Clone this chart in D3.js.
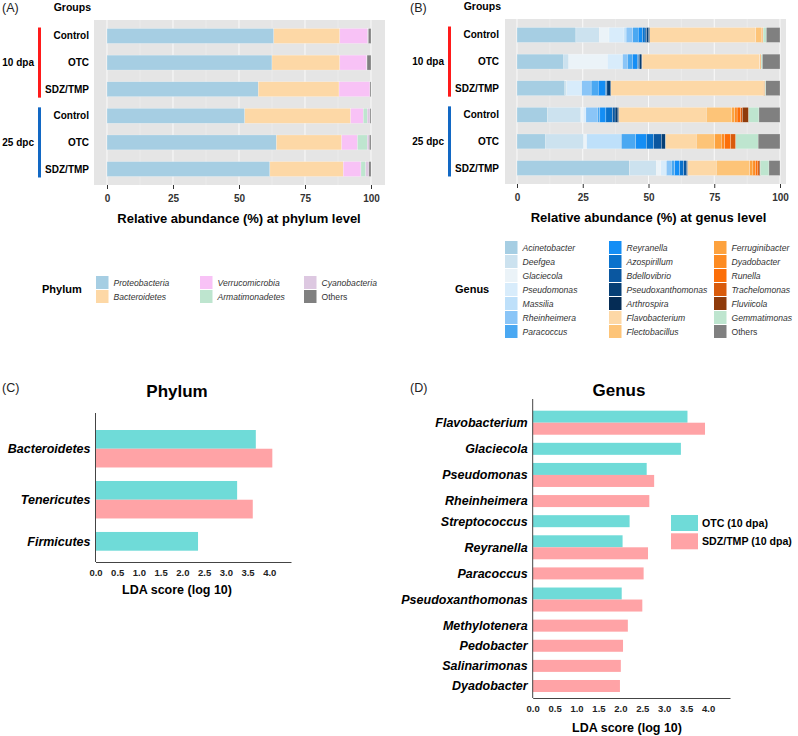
<!DOCTYPE html>
<html>
<head>
<meta charset="utf-8">
<script src="https://cdn.jsdelivr.net/npm/d3@7"></script>
<style>
  body { margin: 0; background: #fff; }
  svg { font-family: "Liberation Sans", Arial, sans-serif; }
</style>
</head>
<body>
<svg id="chart" width="798" height="736"></svg>
<script>
// --- data -----------------------------------------------------------------
const timepoints = ["10 dpa", "25 dpc"];
const treatments = ["Control", "OTC", "SDZ/TMP"];
const timeColors = ["#ff1a1a", "#1268c4"];
const abundanceTicks = [0, 25, 50, 75, 100];

const phylumNames = ["Proteobacteria", "Bacteroidetes", "Verrucomicrobia", "Armatimonadetes", "Cyanobacteria", "Others"];
const phylumColors = ["#a6cee3", "#fdd8a6", "#f8c2f6", "#bee5cf", "#ddc8e1", "#808080"];
// one row per group, top to bottom (10 dpa Control, OTC, SDZ/TMP, 25 dpc Control, OTC, SDZ/TMP)
const phylumValues = [
  [63.2, 25.0, 10.5, 0.0, 0.3, 1.0],
  [62.5, 25.7, 10.2, 0.0, 0.1, 1.5],
  [57.3, 30.6, 11.7, 0.0, 0.0, 0.4],
  [52.2, 40.1, 4.8, 1.5, 1.0, 0.4],
  [64.2, 24.7, 6.0, 3.7, 0.8, 0.6],
  [61.7, 27.8, 6.7, 1.8, 1.2, 0.8]
];

const genusNames = ["Acinetobacter", "Deefgea", "Glaciecola", "Pseudomonas", "Massilia", "Rheinheimera", "Paracoccus",
  "Reyranella", "Azospirillum", "Bdellovibrio", "Pseudoxanthomonas", "Arthrospira", "Flavobacterium", "Flectobacillus",
  "Ferruginibacter", "Dyadobacter", "Runella", "Trachelomonas", "Fluviicola", "Gemmatimonas", "Others"];
const genusColors = ["#a6cee3", "#cce2ef", "#ebf3f8", "#d8ecfb", "#bee0fa", "#8ac5f7", "#4aa8f2",
  "#148ef5", "#0a72cc", "#0a57a0", "#063f75", "#052c55", "#fdd8a6", "#fdc478",
  "#fda23e", "#fd8b22", "#fc6e08", "#d95b0c", "#8f3b0b", "#bee5cf", "#808080"];
const genusValues = [
  [22.4, 8.9, 3.7, 5.7, 0.8, 2.5, 2.1, 1.6, 1.0, 0.6, 0.7, 0.5, 40.3, 2.3, 0.3, 0.2, 0, 0, 0, 1.2, 5.2],
  [17.8, 1.9, 14.7, 5.3, 0.5, 1.8, 1.9, 1.9, 0.4, 0.3, 0.8, 0.3, 44.7, 0.1, 0.1, 0.3, 0, 0, 0, 0.5, 6.7],
  [18.2, 0.7, 0, 5.7, 0, 3.6, 2.7, 2.7, 0.3, 0.3, 1.5, 0, 58.1, 0, 0, 0.4, 0, 0, 0, 0.4, 5.4],
  [11.6, 12.7, 0.9, 1.0, 0, 4.4, 0.9, 2.3, 2.5, 1.0, 0.8, 0.6, 33.3, 9.7, 1.1, 0.9, 1.4, 0.6, 2.4, 3.9, 8.0],
  [10.9, 14.5, 1.1, 0, 13.2, 0, 5.4, 4.1, 2.8, 2.9, 1.6, 0, 11.7, 7.0, 2.5, 1.3, 2.3, 1.9, 0, 8.5, 8.3],
  [42.7, 10.3, 1.7, 2.1, 0, 1.9, 1.3, 1.9, 1.5, 1.0, 0.5, 0, 10.9, 12.7, 1.2, 1.0, 0.9, 0.5, 0.4, 3.3, 4.2]
];

const ldaGroups = ["OTC (10 dpa)", "SDZ/TMP (10 dpa)"];
const ldaColors = ["#6fdbd8", "#ffa3a6"];
const ldaTicks = [0, 0.5, 1, 1.5, 2, 2.5, 3, 3.5, 4];

const phylumLdaNames = ["Bacteroidetes", "Tenericutes", "Firmicutes"];
const phylumLdaOtc = [3.69, 3.26, 2.36];
const phylumLdaSdz = [4.07, 3.62, null];

const genusLdaNames = ["Flavobacterium", "Glaciecola", "Pseudomonas", "Rheinheimera", "Streptococcus", "Reyranella",
  "Paracoccus", "Pseudoxanthomonas", "Methylotenera", "Pedobacter", "Salinarimonas", "Dyadobacter"];
const genusLdaOtc = [3.53, 3.38, 2.60, null, 2.21, 2.05, null, 2.03, null, null, null, null];
const genusLdaSdz = [3.93, null, 2.77, 2.66, null, 2.63, 2.53, 2.50, 2.17, 2.06, 2.01, 1.99];

// --- helpers --------------------------------------------------------------
const svg = d3.select("#chart");
const rowIds = [];
timepoints.forEach(t => treatments.forEach(tr => rowIds.push(t + "|" + tr)));

function panelLabel(x, y, txt) {
  svg.append("text").attr("x", x).attr("y", y).attr("font-size", 12.5).attr("fill", "#222").text(txt);
}

function drawStack(opts) {
  const g = svg.append("g");
  const x = d3.scaleLinear().domain([0, 100]).range(opts.xRange);
  const y = d3.scalePoint().domain(rowIds).range([opts.top, opts.bottom]).padding(0.6);
  const barH = y.step() * 0.56;

  g.append("rect")
    .attr("x", opts.panel[0]).attr("y", opts.top)
    .attr("width", opts.panel[1] - opts.panel[0]).attr("height", opts.bottom - opts.top)
    .attr("fill", "#e5e5e5");

  // grid
  const minor = d3.range(12.5, 100, 25);
  g.selectAll(".minor").data(minor).join("line")
    .attr("x1", d => x(d)).attr("x2", d => x(d))
    .attr("y1", opts.top).attr("y2", opts.bottom)
    .attr("stroke", "#f2f2f2").attr("stroke-width", 0.5);
  g.selectAll(".major").data(abundanceTicks).join("line")
    .attr("x1", d => x(d)).attr("x2", d => x(d))
    .attr("y1", opts.top).attr("y2", opts.bottom)
    .attr("stroke", "#fafafa").attr("stroke-width", 1);

  const table = opts.values.map((row, i) => {
    const o = { id: rowIds[i] };
    opts.names.forEach((n, j) => { o[n] = row[j]; });
    return o;
  });
  const series = d3.stack().keys(opts.names)(table);
  const color = d3.scaleOrdinal().domain(opts.names).range(opts.colors);

  g.selectAll(".layer").data(series).join("g")
    .attr("fill", d => color(d.key))
    .selectAll("rect").data(d => d.filter(s => s[1] - s[0] > 0)).join("rect")
    .attr("x", d => x(d[0]))
    .attr("width", d => x(d[1]) - x(d[0]))
    .attr("y", d => y(d.data.id) - barH / 2)
    .attr("height", barH)
    .attr("stroke", "#fff").attr("stroke-width", 0.4).attr("stroke-opacity", 0.6);

  // x axis
  const ax = g.append("g").attr("transform", `translate(0,${opts.bottom})`)
    .call(d3.axisBottom(x).tickValues(abundanceTicks).tickSize(4).tickPadding(6));
  ax.select(".domain").remove();
  ax.selectAll(".tick line").attr("stroke", "#333");
  ax.selectAll(".tick text").attr("font-size", 10).attr("font-weight", "bold").attr("fill", "#333")
    .attr("font-family", "Liberation Sans, Arial, sans-serif");

  g.append("text")
    .attr("x", (opts.xRange[0] + opts.xRange[1]) / 2).attr("y", opts.bottom + 38)
    .attr("text-anchor", "middle").attr("font-size", 13).attr("font-weight", "bold")
    .text(opts.axisTitle);

  // row labels
  g.selectAll(".rowlab").data(rowIds).join("text")
    .attr("x", opts.labelX).attr("y", d => y(d)).attr("dy", "0.35em")
    .attr("text-anchor", "end").attr("font-size", 10).attr("font-weight", "bold")
    .text(d => d.split("|")[1]);
  g.append("text").attr("x", opts.labelX + 2).attr("y", opts.top - 9)
    .attr("text-anchor", "end").attr("font-size", 10.5).attr("font-weight", "bold").text("Groups");

  timepoints.forEach((t, i) => {
    const ids = rowIds.filter(r => r.startsWith(t));
    const y0 = y(ids[0]) - barH / 2 - 1, y1 = y(ids[ids.length - 1]) + barH / 2 + 1;
    g.append("rect").attr("x", opts.brX).attr("y", y0).attr("width", 3).attr("height", y1 - y0)
      .attr("fill", timeColors[i]);
    g.append("text").attr("x", opts.brX - 4).attr("y", (y0 + y1) / 2).attr("dy", "0.35em")
      .attr("text-anchor", "end").attr("font-size", 10).attr("font-weight", "bold").text(t);
  });
}

function drawLegend(opts) {
  const g = svg.append("g");
  const perCol = opts.perCol;
  opts.names.forEach((n, i) => {
    const col = Math.floor(i / perCol), row = i % perCol;
    const sx = opts.colX[col], sy = opts.top + row * opts.rowH;
    g.append("rect").attr("x", sx).attr("y", sy + 0.5).attr("width", 12.5).attr("height", opts.rowH - 1)
      .attr("fill", opts.colors[i]);
    g.append("text").attr("x", sx + 17.5).attr("y", sy + opts.rowH / 2).attr("dy", "0.35em")
      .attr("font-size", 8.6).attr("fill", "#333")
      .attr("font-style", n === "Others" ? "normal" : "italic").text(n);
  });
  g.append("text").attr("x", opts.titleX).attr("y", opts.top + perCol * opts.rowH / 2).attr("dy", "0.35em")
    .attr("font-size", 11).attr("font-weight", "bold").text(opts.title);
}

function drawLda(opts) {
  const g = svg.append("g");
  const x = d3.scaleLinear().domain([0, 4.5]).range([opts.left, opts.right]);
  // bars of one taxon sit together, gap between taxa
  const layout = [];
  let offset = 0;
  opts.names.forEach((n, i) => {
    const bars = [];
    if (opts.otc[i] != null) bars.push({ grp: 0, v: opts.otc[i] });
    if (opts.sdz[i] != null) bars.push({ grp: 1, v: opts.sdz[i] });
    bars.forEach((b, k) => { b.pos = offset + k; });
    layout.push({ name: n, start: offset, n: bars.length, bars });
    offset += bars.length + opts.gap;
  });
  const total = offset - opts.gap;
  const y = d3.scaleLinear().domain([0, total]).range([opts.barTop, opts.barBottom]);
  const unit = y(1) - y(0);

  const bars = layout.flatMap(d => d.bars);
  g.selectAll(".bar").data(bars).join("rect")
    .attr("x", x(0)).attr("y", d => y(d.pos))
    .attr("width", d => x(d.v) - x(0)).attr("height", unit)
    .attr("fill", d => ldaColors[d.grp]);

  g.selectAll(".lab").data(layout).join("text")
    .attr("x", opts.left - 5).attr("y", d => y(d.start + d.n / 2)).attr("dy", "0.35em")
    .attr("text-anchor", "end").attr("font-size", 12.5).attr("font-weight", "bold").attr("font-style", "italic")
    .text(d => d.name);

  g.append("line").attr("x1", x(0)).attr("x2", x(0)).attr("y1", opts.top).attr("y2", opts.bottom)
    .attr("stroke", "#444").attr("stroke-width", 1);
  const ax = g.append("g").attr("transform", `translate(0,${opts.bottom})`)
    .call(d3.axisBottom(x).tickValues(ldaTicks).tickFormat(d3.format(".1f")).tickSize(0).tickSizeOuter(0).tickPadding(7));
  ax.select(".domain").attr("stroke", "#444");
  ax.selectAll(".tick text").attr("font-size", 9.5).attr("font-weight", "bold").attr("fill", "#222")
    .attr("font-family", "Liberation Sans, Arial, sans-serif");

  g.append("text").attr("x", opts.titleX).attr("y", opts.titleY)
    .attr("text-anchor", "middle").attr("font-size", 17).attr("font-weight", "bold").text(opts.title);
  g.append("text").attr("x", opts.axisTitleX).attr("y", opts.axisTitleY)
    .attr("text-anchor", "middle").attr("font-size", 12.5).attr("font-weight", "bold").text("LDA score (log 10)");
}

// --- panels ---------------------------------------------------------------
panelLabel(2, 12, "(A)");
drawStack({
  names: phylumNames, colors: phylumColors, values: phylumValues,
  panel: [94, 385], xRange: [107, 371], top: 20, bottom: 185,
  labelX: 89, brX: 38, axisTitle: "Relative abundance (%) at phylum level"
});
drawLegend({
  names: phylumNames, colors: phylumColors, perCol: 2, rowH: 14, top: 275.5,
  colX: [96, 200, 304], titleX: 42, title: "Phylum"
});

panelLabel(410, 12, "(B)");
drawStack({
  names: genusNames, colors: genusColors, values: genusValues,
  panel: [505, 786], xRange: [517, 780], top: 19, bottom: 184,
  labelX: 499, brX: 448, axisTitle: "Relative abundance (%) at genus level"
});
drawLegend({
  names: genusNames, colors: genusColors, perCol: 7, rowH: 14, top: 240.5,
  colX: [505, 609, 714], titleX: 455, title: "Genus"
});

panelLabel(2, 392, "(C)");
drawLda({
  names: phylumLdaNames, otc: phylumLdaOtc, sdz: phylumLdaSdz,
  left: 95.5, right: 291, top: 413, bottom: 562, barTop: 430, barBottom: 550.7, gap: 0.72,
  title: "Phylum", titleX: 177, titleY: 397, axisTitleX: 177, axisTitleY: 594
});

panelLabel(410, 392, "(D)");
drawLda({
  names: genusLdaNames, otc: genusLdaOtc, sdz: genusLdaSdz,
  left: 532.7, right: 730, top: 399, bottom: 698, barTop: 410.7, barBottom: 692, gap: 0.675,
  title: "Genus", titleX: 619, titleY: 396, axisTitleX: 627, axisTitleY: 732
});

// LDA legend
const lg = svg.append("g");
ldaGroups.forEach((n, i) => {
  lg.append("rect").attr("x", 671).attr("y", 515 + i * 18.3).attr("width", 27).attr("height", 16)
    .attr("fill", ldaColors[i]);
  lg.append("text").attr("x", 702).attr("y", 523 + i * 18.3).attr("dy", "0.35em")
    .attr("font-size", 10.6).attr("font-weight", "bold").text(n);
});
</script>
</body>
</html>
